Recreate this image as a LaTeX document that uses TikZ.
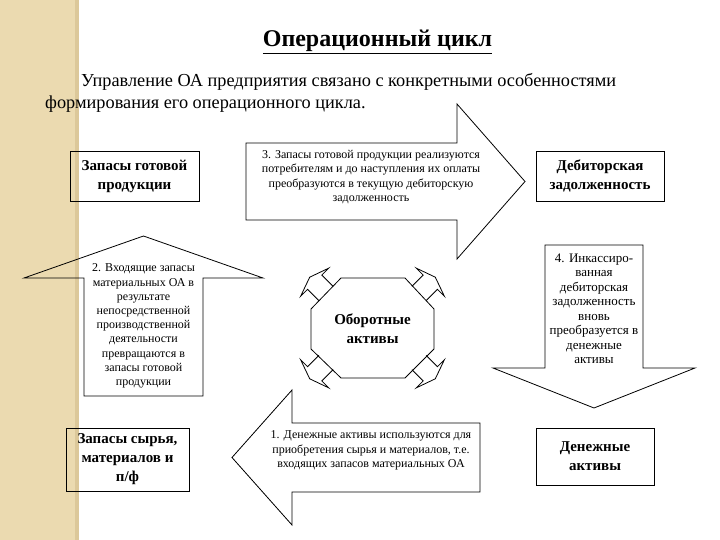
\documentclass[tikz,border=0pt]{standalone}
\usepackage{fontspec}
\setmainfont{Liberation Serif}
\definecolor{bandfill}{HTML}{EBDAB0}
\definecolor{bandedge}{HTML}{DCC89A}
\tikzset{
  box/.style={draw, line width=0.8pt, align=center, inner sep=0pt,
    font=\fontsize{15}{19}\selectfont\bfseries},
  blockarrow/.style={draw, line width=0.8pt, line join=miter},
  smalltext/.style={align=center, inner sep=0pt,
    font=\fontsize{12}{14.2}\selectfont},
}
\begin{document}
\begin{tikzpicture}[x=1pt,y=-1pt]
    \useasboundingbox (0,0) rectangle (720,540);
    % Draw the side band
    \fill[bandfill] (0,0) rectangle (79,540);
    \fill[bandedge] (75,0) rectangle (79,540);

    % Title and introduction
    \node[anchor=base, inner sep=0pt, font=\fontsize{24}{28}\selectfont\bfseries] (title) at (377.5,47) {\underline{Операционный цикл}};
    \node[anchor=base west, inner sep=0pt, font=\fontsize{18.3}{20}\selectfont] (introa) at (81,87) {Управление ОА предприятия связано с конкретными особенностями};
    \node[anchor=base west, inner sep=0pt, font=\fontsize{18.3}{20}\selectfont] (introb) at (45,109) {формирования его операционного цикла.};

    % Draw the boxes
    \node[box, minimum width=129, minimum height=50] (stock) at (134.5,176) {Запасы готовой\\продукции};
    \node[box, minimum width=128, minimum height=50] (debt) at (600,176) {Дебиторская\\задолженность};
    \node[box, minimum width=118, minimum height=57] (cash) at (595,456.5) {Денежные\\активы};
    \node[box, minimum width=123, minimum height=63] (raw) at (127.5,459.5) {Запасы сырья,\\материалов и\\п/ф};

    % Draw the block arrows
    \draw[blockarrow] (246,143) -- (457,143) -- (457,104) -- (525,181.5) -- (457,259) -- (457,220) -- (246,220) -- cycle;
    \draw[blockarrow] (84,396) -- (84,278) -- (24,278) -- (143.5,236) -- (263,278) -- (203,278) -- (203,396) -- cycle;
    \draw[blockarrow] (545,245) -- (643,245) -- (643,368) -- (695,368) -- (594,408) -- (493,368) -- (545,368) -- cycle;
    \draw[blockarrow] (480,423) -- (292,423) -- (292,390) -- (232,457.5) -- (292,525) -- (292,492) -- (480,492) -- cycle;

    % Arrow texts
    \node[smalltext] (stepthree) at (371,177) {3. Запасы готовой продукции реализуются\\потребителям и до наступления их оплаты\\преобразуются в текущую дебиторскую\\задолженность};
    \node[smalltext] (steptwo) at (143.5,326) {2. Входящие запасы\\материальных ОА в\\результате\\непосредственной\\производственной\\деятельности\\превращаются в\\запасы готовой\\продукции};
    \node[smalltext, font=\fontsize{13}{14.5}\selectfont] (stepfour) at (594,309) {4. Инкассиро-\\ванная\\дебиторская\\задолженность\\вновь\\преобразуется в\\денежные\\активы};
    \node[smalltext] (stepone) at (371,450.5) {1. Денежные активы используются для\\приобретения сырья и материалов, т.е.\\входящих запасов материальных ОА};

    % Draw the octagon with the small arrows
    \draw[line width=0.8pt] (341,278) -- (405,278) -- (434,309) -- (434,349) -- (405,378) -- (341,378) -- (311,349) -- (311,309) -- cycle;
    \node[box, draw=none] (assets) at (372.5,329) {Оборотные\\активы};
    \foreach \sx/\sy in {1/1,-1/1,1/-1,-1/-1}
        \draw[blockarrow, shift={(372.5,328)}, xscale=\sx, yscale=\sy]
            (-39.4,-41.6) -- (-50.7,-52.9) -- (-43.7,-59.9) -- (-62.8,-50.8) -- (-71.9,-31.7) -- (-64.9,-38.7) -- (-53.6,-27.4);
\end{tikzpicture}
\end{document}
